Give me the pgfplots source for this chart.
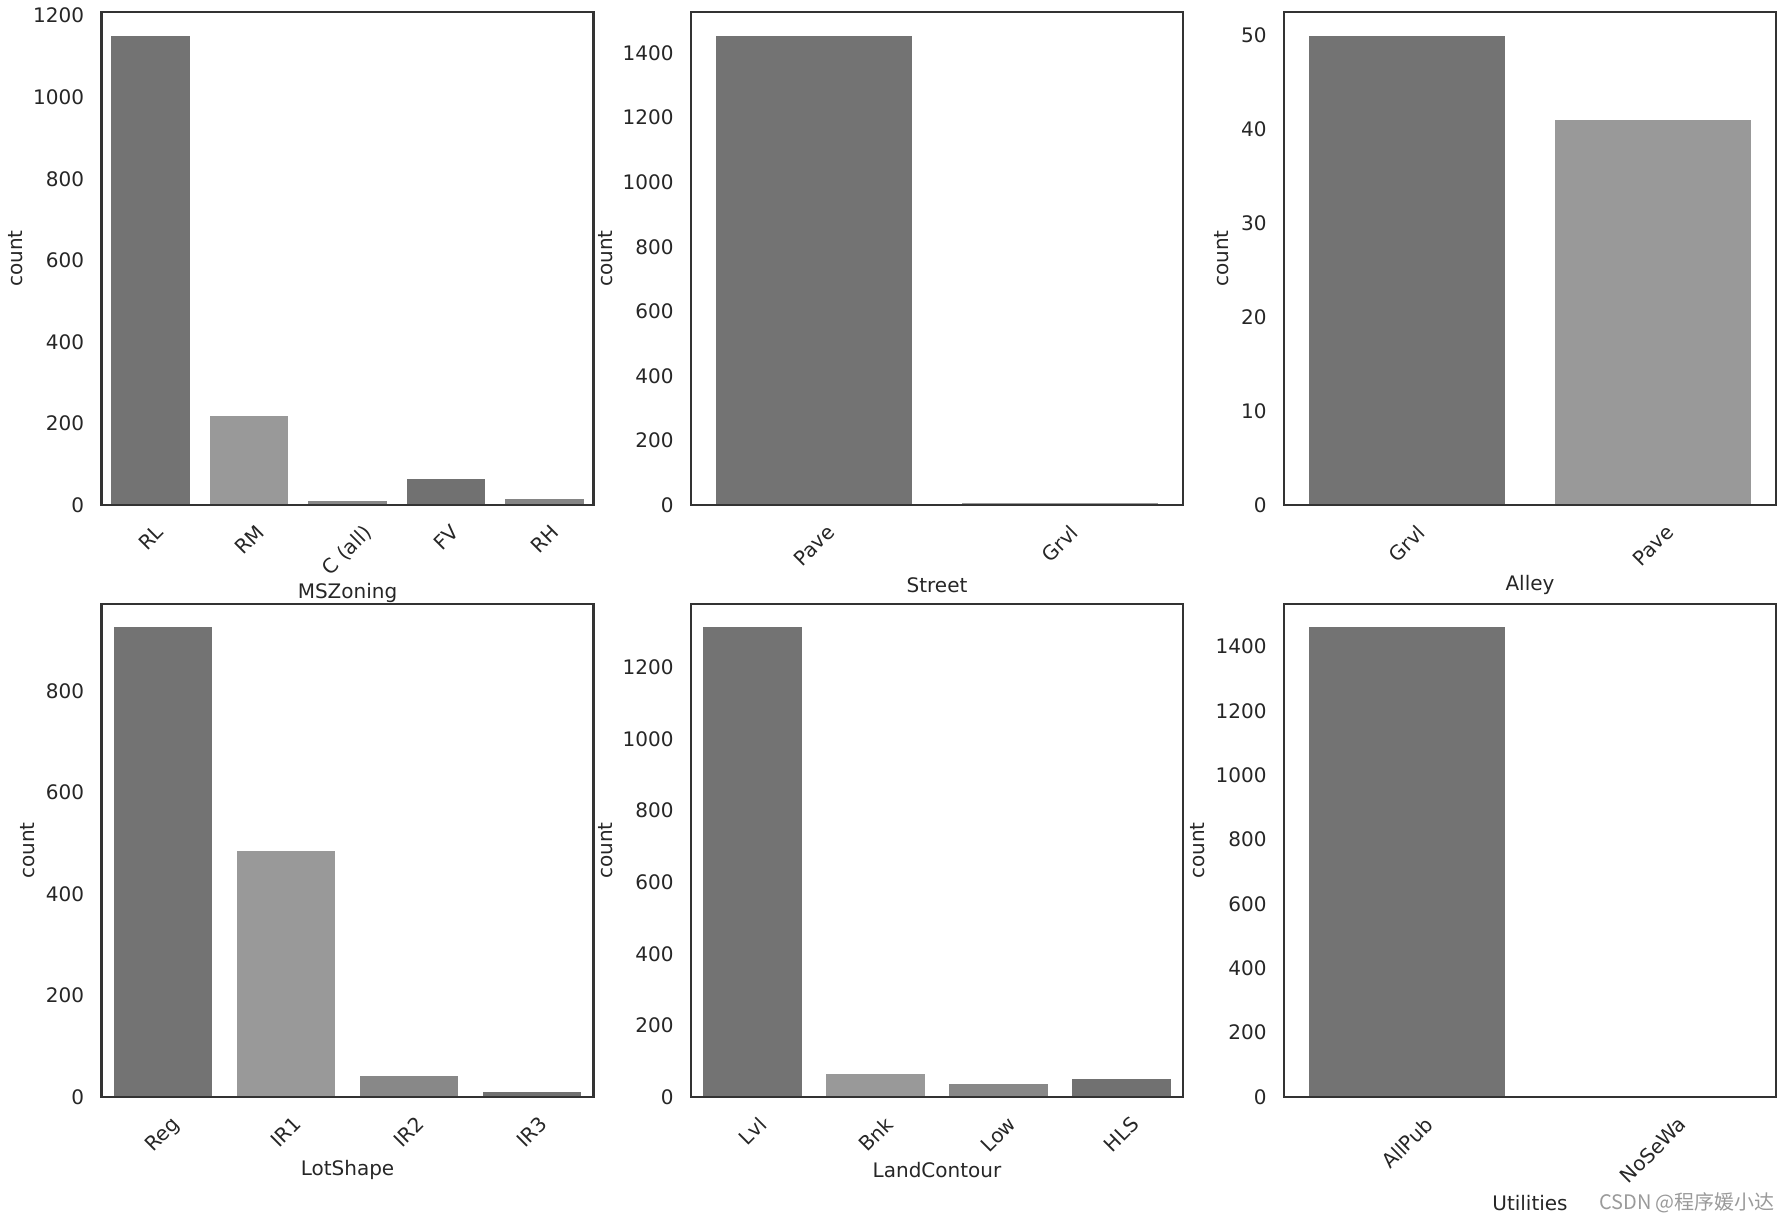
\documentclass[border=0pt]{standalone}
\usepackage{fontspec}
\setmainfont{DejaVu Sans}
\newfontfamily\cjk{Noto Sans CJK SC}
\usepackage{graphicx}
\usepackage{pgfplots}
\pgfplotsset{compat=1.18}

\definecolor{b0}{HTML}{737373}
\definecolor{b1}{HTML}{999999}
\definecolor{b2}{HTML}{888888}
\definecolor{b3}{HTML}{717171}
\definecolor{b4}{HTML}{858585}
\definecolor{spine}{HTML}{333333}
\definecolor{txt}{HTML}{262626}
\definecolor{wm}{HTML}{9A9A9A}

% rotated tick label, centred under its tick like matplotlib does
\newcommand{\rl}[1]{\rotatebox{45}{#1}}

\pgfplotsset{
  cnt/.style={
    scale only axis, width=246pt, height=246.5pt,
    anchor=south west,
    axis on top,
    axis line style={draw=spine, line width=1.1pt},
    major tick length=0pt, tick style={draw=none},
    ymin=0,
    scaled y ticks=false,
    /pgf/number format/1000 sep={},
    /pgf/number format/assume math mode=true,
    tick label style={font=\fontsize{10}{12}\selectfont, text=txt},
    label style={font=\fontsize{10}{12}\selectfont, text=txt},
    yticklabel style={anchor=east, inner sep=0pt, xshift=-8.5pt},
    xticklabel style={anchor=north, inner sep=0pt, yshift=-9pt},
    ylabel=count,
  },
  cbar/.style={ybar, bar width=0.8, draw=none, fill=#1},
}

\begin{document}
\begin{tikzpicture}
\useasboundingbox (0,0) rectangle (894pt,612pt);

% MSZoning
\begin{axis}[cnt, at={(50.75pt,359.4pt)},
  xmin=-0.5, xmax=4.5, ymax=1208.55,
  ytick={0,200,...,1200},
  xtick={0,1,2,3,4},
  xticklabels={\rl{RL},\rl{RM},\rl{C (all)},\rl{FV},\rl{RH}},
  xlabel=MSZoning,
  xlabel style={at={(axis description cs:0.5,-0.178)}, anchor=center},
  ylabel style={at={(axis description cs:-0.1736,0.5)}, anchor=center},
]
\addplot[cbar=b0] coordinates {(0,1151)};
\addplot[cbar=b1] coordinates {(1,218)};
\addplot[cbar=b2] coordinates {(2,10)};
\addplot[cbar=b3] coordinates {(3,65)};
\addplot[cbar=b4] coordinates {(4,16)};
\end{axis}

% Street
\begin{axis}[cnt, at={(345.5pt,359.4pt)},
  xmin=-0.5, xmax=1.5, ymax=1526.7,
  ytick={0,200,...,1400},
  xtick={0,1},
  xticklabels={\rl{Pave},\rl{Grvl}},
  xlabel=Street,
  xlabel style={at={(axis description cs:0.5,-0.162)}, anchor=center},
  ylabel style={at={(axis description cs:-0.1736,0.5)}, anchor=center},
]
\addplot[cbar=b0] coordinates {(0,1454)};
\addplot[cbar=b1] coordinates {(1,6)};
\end{axis}

% Alley
\begin{axis}[cnt, at={(642pt,359.4pt)},
  xmin=-0.5, xmax=1.5, ymax=52.5,
  ytick={0,10,...,50},
  xtick={0,1},
  xticklabels={\rl{Grvl},\rl{Pave}},
  xlabel=Alley,
  xlabel style={at={(axis description cs:0.5,-0.162)}, anchor=center},
  ylabel style={at={(axis description cs:-0.1275,0.5)}, anchor=center},
]
\addplot[cbar=b0] coordinates {(0,50)};
\addplot[cbar=b1] coordinates {(1,41)};
\end{axis}

% LotShape
\begin{axis}[cnt, at={(50.75pt,63.5pt)},
  xmin=-0.5, xmax=3.5, ymax=971.25,
  ytick={0,200,...,800},
  xtick={0,1,2,3},
  xticklabels={\rl{Reg},\rl{IR1},\rl{IR2},\rl{IR3}},
  xlabel=LotShape,
  xlabel style={at={(axis description cs:0.5,-0.148)}, anchor=center},
  ylabel style={at={(axis description cs:-0.150,0.5)}, anchor=center},
]
\addplot[cbar=b0] coordinates {(0,925)};
\addplot[cbar=b1] coordinates {(1,484)};
\addplot[cbar=b2] coordinates {(2,41)};
\addplot[cbar=b3] coordinates {(3,10)};
\end{axis}

% LandContour
\begin{axis}[cnt, at={(345.5pt,63.5pt)},
  xmin=-0.5, xmax=3.5, ymax=1376.55,
  ytick={0,200,...,1200},
  xtick={0,1,2,3},
  xticklabels={\rl{Lvl},\rl{Bnk},\rl{Low},\rl{HLS}},
  xlabel=LandContour,
  xlabel style={at={(axis description cs:0.5,-0.148)}, anchor=center},
  ylabel style={at={(axis description cs:-0.1736,0.5)}, anchor=center},
]
\addplot[cbar=b0] coordinates {(0,1311)};
\addplot[cbar=b1] coordinates {(1,63)};
\addplot[cbar=b2] coordinates {(2,36)};
\addplot[cbar=b3] coordinates {(3,50)};
\end{axis}

% Utilities
\begin{axis}[cnt, at={(642pt,63.5pt)},
  xmin=-0.5, xmax=1.5, ymax=1531.95,
  ytick={0,200,...,1400},
  xtick={0,1},
  xticklabels={\rl{AllPub},\rl{NoSeWa}},
  xlabel=Utilities,
  xlabel style={at={(axis description cs:0.5,-0.215)}, anchor=center},
  ylabel style={at={(axis description cs:-0.176,0.5)}, anchor=center},
]
\addplot[cbar=b0] coordinates {(0,1459)};
\addplot[cbar=b1] coordinates {(1,1)};
\end{axis}

\node[text=wm, font=\cjk\fontsize{10}{12}\selectfont] at (843.5pt,10.5pt) {CSDN @程序媛小达};
\end{tikzpicture}
\end{document}
